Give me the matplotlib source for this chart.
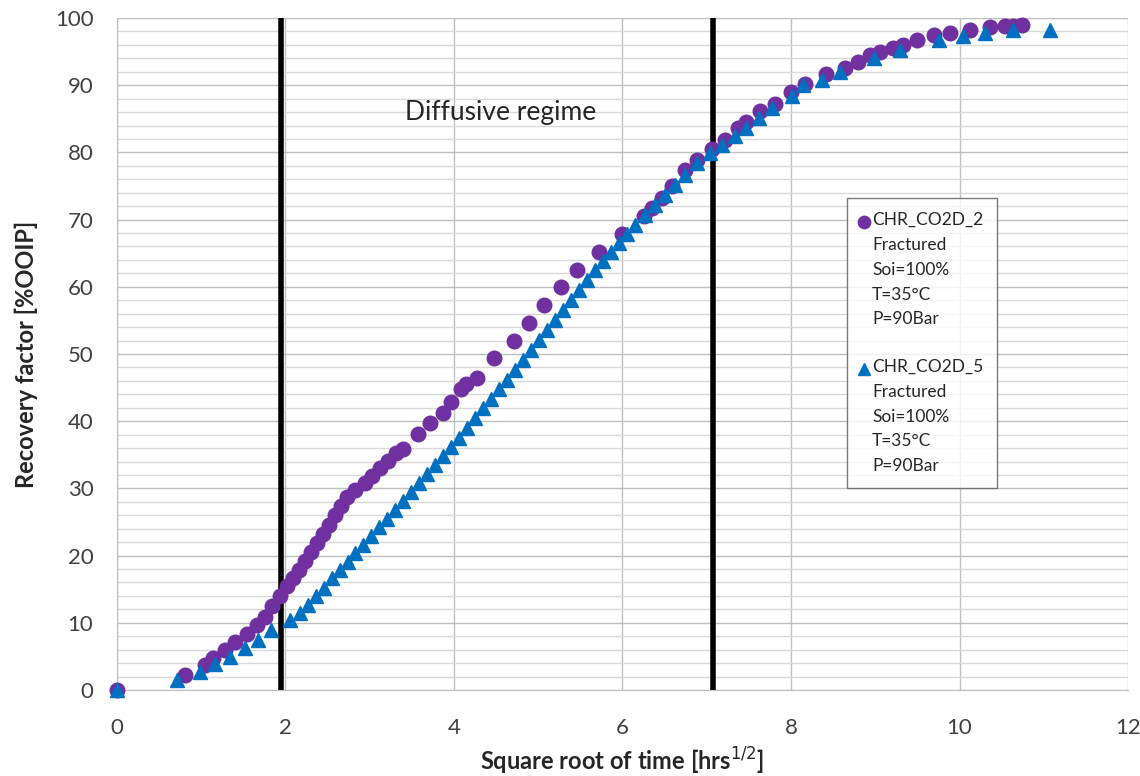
import matplotlib
matplotlib.use("Agg")
import matplotlib.pyplot as plt
import matplotlib.transforms as mtransforms
from matplotlib.ticker import MultipleLocator
from matplotlib.legend_handler import HandlerLine2D

plt.rcParams['font.family'] = ['Lato', 'DejaVu Sans']

# CHR_CO2D_2 (circles)
x_c2 = [0, 0.81, 1.04, 1.14, 1.28, 1.40, 1.54, 1.66, 1.76, 1.84, 1.93, 2.02, 2.09, 2.16,
        2.23, 2.30, 2.37, 2.45, 2.52, 2.59, 2.66, 2.73, 2.82, 2.94, 3.03, 3.12, 3.22, 3.31,
        3.39, 3.57, 3.72, 3.87, 3.96, 4.08, 4.14, 4.27, 4.47, 4.71, 4.89, 5.07, 5.27, 5.46,
        5.72, 5.99, 6.26, 6.35, 6.47, 6.59, 6.74, 6.88, 7.06, 7.22, 7.37, 7.47, 7.63, 7.81,
        8.00, 8.17, 8.42, 8.64, 8.80, 8.94, 9.06, 9.21, 9.33, 9.50, 9.70, 9.89, 10.12, 10.36,
        10.54, 10.63, 10.74]
y_c2 = [0, 2.2, 3.7, 4.8, 6.0, 7.1, 8.3, 9.7, 10.9, 12.5, 14.0, 15.5, 16.7, 17.9,
        19.2, 20.5, 21.9, 23.2, 24.6, 26.0, 27.4, 28.7, 29.8, 30.8, 31.8, 33.0, 34.1, 35.3,
        35.9, 38.1, 39.7, 41.2, 42.9, 44.8, 45.5, 46.4, 49.4, 51.9, 54.6, 57.3, 60.0, 62.5,
        65.2, 67.9, 70.5, 71.7, 73.2, 75.0, 77.4, 78.9, 80.5, 81.8, 83.6, 84.5, 86.2, 87.2,
        89.0, 90.2, 91.7, 92.6, 93.5, 94.5, 94.9, 95.5, 96.0, 96.7, 97.5, 97.8, 98.2, 98.7,
        98.8, 98.8, 99.0]

# CHR_CO2D_5 (triangles)
x_c5 = [0, 0.71, 0.98, 1.16, 1.34, 1.52, 1.67, 1.83, 2.05, 2.17, 2.27, 2.36, 2.46, 2.55,
        2.65, 2.74, 2.82, 2.92, 3.01, 3.11, 3.20, 3.30, 3.39, 3.49, 3.58, 3.68, 3.77, 3.87,
        3.96, 4.06, 4.15, 4.25, 4.34, 4.44, 4.53, 4.63, 4.72, 4.82, 4.91, 5.01, 5.10, 5.20,
        5.29, 5.39, 5.48, 5.58, 5.67, 5.77, 5.86, 5.96, 6.05, 6.15, 6.27, 6.39, 6.50, 6.62,
        6.74, 6.88, 7.04, 7.18, 7.33, 7.47, 7.62, 7.77, 8.01, 8.14, 8.37, 8.58, 8.99, 9.29,
        9.76, 10.04, 10.30, 10.64, 11.07]
y_c5 = [0, 1.5, 2.7, 3.9, 4.9, 6.2, 7.4, 8.9, 10.4, 11.5, 12.6, 14.0, 15.2, 16.7,
        17.9, 19.0, 20.4, 21.6, 22.9, 24.3, 25.4, 26.8, 28.1, 29.5, 30.8, 32.1, 33.5, 34.8,
        36.2, 37.5, 39.0, 40.5, 42.0, 43.3, 44.8, 46.1, 47.6, 49.1, 50.6, 52.1, 53.6, 55.1,
        56.5, 58.0, 59.5, 61.0, 62.5, 63.8, 65.2, 66.5, 67.9, 69.2, 70.7, 72.2, 73.7, 75.1,
        76.6, 78.4, 79.9, 81.1, 82.4, 83.6, 85.1, 86.6, 88.4, 90.0, 90.8, 92.0, 94.0, 95.2,
        96.7, 97.3, 97.8, 98.2, 98.2]

regime_bounds = [1.95, 7.08]

label_c2 = "CHR_CO2D_2\nFractured\nSoi=100%\nT=35°C\nP=90Bar"
label_c5 = "CHR_CO2D_5\nFractured\nSoi=100%\nT=35°C\nP=90Bar"

LEG_FS = 12.5
LINESP = 1.68


class TopHandler(HandlerLine2D):
    """Places the legend marker next to the first line of a multi-line label."""
    def __init__(self, shift, **kw):
        super().__init__(**kw)
        self.shift = shift

    def create_artists(self, legend, orig_handle, xdescent, ydescent, width, height,
                       fontsize, trans):
        artists = super().create_artists(legend, orig_handle, xdescent, ydescent,
                                         width, height, fontsize, trans)
        t = mtransforms.Affine2D().translate(0, self.shift) + trans
        for a in artists:
            a.set_transform(t)
        return artists


fig = plt.figure(figsize=(11.4, 7.76), dpi=100)
ax = fig.add_axes([0.1026, 0.1108, 0.8869, 0.866])

ax.set_xlim(0, 12)
ax.set_ylim(0, 100)
ax.xaxis.set_major_locator(MultipleLocator(2))
ax.yaxis.set_major_locator(MultipleLocator(10))
ax.yaxis.set_minor_locator(MultipleLocator(2))

ax.grid(which='major', axis='both', color='#bfbfbf', linewidth=1.0, zorder=0)
ax.grid(which='minor', axis='y', color='#d9d9d9', linewidth=1.0, zorder=0)
ax.set_axisbelow(True)

for s in ['top', 'right']:
    ax.spines[s].set_visible(False)
ax.spines['left'].set_color('#bfbfbf')
ax.spines['bottom'].set_color('#bfbfbf')

ax.tick_params(which='both', length=0)
ax.tick_params(axis='x', pad=20, labelsize=16, labelcolor='#404040')
ax.tick_params(axis='y', pad=17, labelsize=16, labelcolor='#404040')

for xb in regime_bounds:
    ax.axvline(xb, color='black', linewidth=4, zorder=2)

h2, = ax.plot(x_c2, y_c2, linestyle='none', marker='o', markersize=10.5, color='#7030A0',
              label=label_c2, zorder=3, clip_on=False)
h5, = ax.plot(x_c5, y_c5, linestyle='none', marker='^', markersize=10.5, color='#0070C0',
              label=label_c5, zorder=4, clip_on=False)

ax.text(4.55, 85.9, 'Diffusive regime', fontsize=19, color='#262626', ha='center', va='center')

ax.set_xlabel('Square root of time [hrs$^{1/2}$]', fontsize=17, fontweight='bold',
              color='#262626', labelpad=6)
ax.set_ylabel('Recovery factor [%OOIP]', fontsize=17, fontweight='bold', color='#262626',
              labelpad=12)

shift_pts = 2 * LEG_FS * 1.39
leg = ax.legend(handles=[h2, h5], loc='upper left', bbox_to_anchor=(0.722, 0.732),
                borderaxespad=0, fontsize=LEG_FS, frameon=True, fancybox=False,
                edgecolor='#595959', handlelength=0.4, handletextpad=0.25,
                labelspacing=1.82, borderpad=0.8, markerscale=0.85,
                handler_map={h2: TopHandler(shift_pts), h5: TopHandler(shift_pts)})
leg.get_frame().set_linewidth(1.0)
for t in leg.get_texts():
    t.set_color('#262626')
    t.set_linespacing(LINESP)

fig.savefig('out.png', dpi=100, facecolor='white')
